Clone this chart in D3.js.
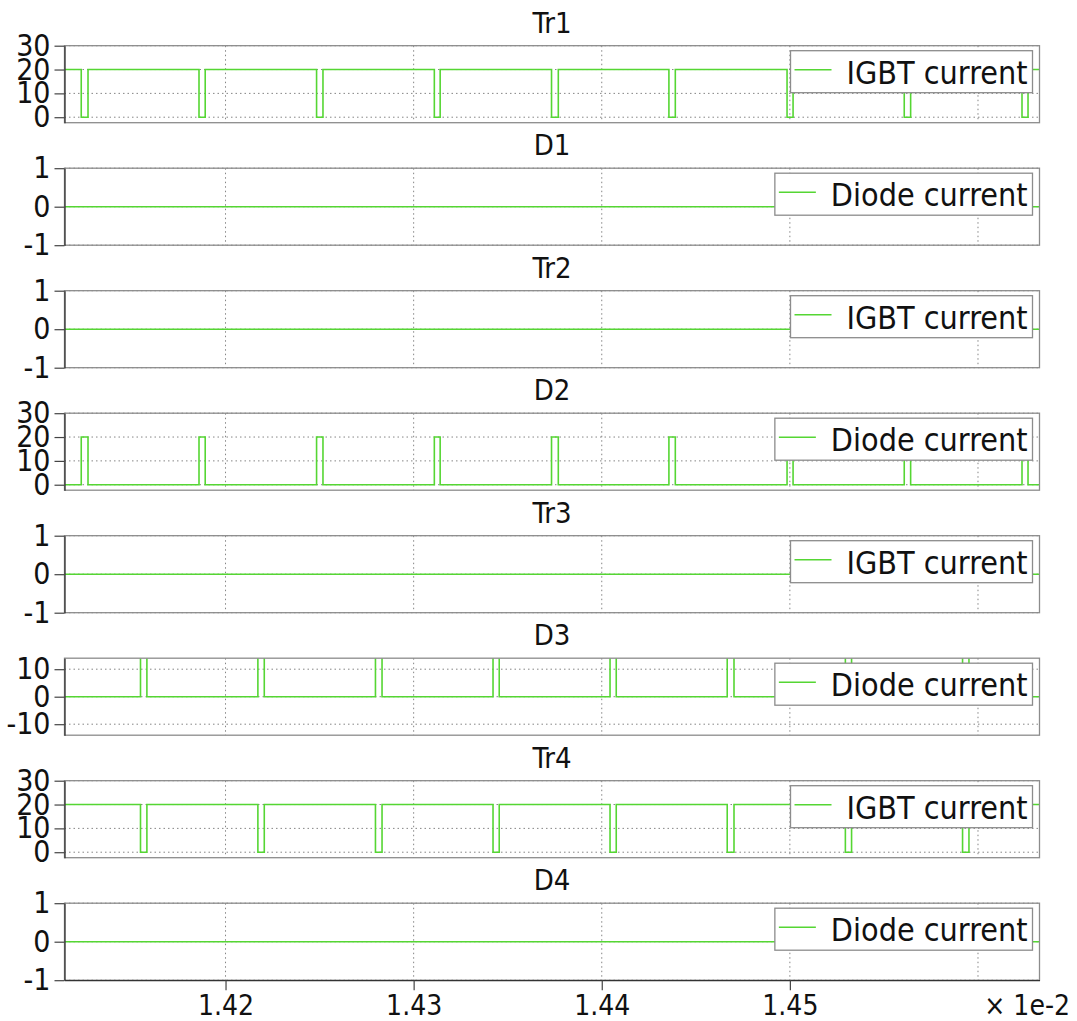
<!DOCTYPE html>
<html>
<head>
<meta charset="utf-8">
<script src="https://cdn.jsdelivr.net/npm/d3@7/dist/d3.min.js"></script>
<style>
  html, body { margin: 0; padding: 0; background: #ffffff; }
  svg { display: block; }
  text { font-family: "DejaVu Sans Condensed", "DejaVu Sans", sans-serif; font-stretch: condensed; fill: #111; }
</style>
</head>
<body>
<svg id="chart" width="1077" height="1021"></svg>
<script>
// ---- data (time axis in units of 1e-2 s, currents in A) ----
const panelTitles  = ["Tr1", "D1", "Tr2", "D2", "Tr3", "D3", "Tr4", "D4"];
const legendLabels = ["IGBT current", "Diode current", "IGBT current", "Diode current",
                      "IGBT current", "Diode current", "IGBT current", "Diode current"];

const timeRange   = [1.41144, 1.46327];
const xTicks      = [1.42, 1.43, 1.44, 1.45, 1.46];
const xTickLabels = ["1.42", "1.43", "1.44", "1.45", ""];
const xExponent   = "\u00d7 1e-2";

// switching instants of leg A (Tr1 turns off / D2 conducts)
const legATimes = [1.4110, 1.41233, 1.41269, 1.41859, 1.41892, 1.42484, 1.42518, 1.43110, 1.43141,
                   1.43733, 1.43769, 1.44357, 1.44391, 1.44985, 1.45017, 1.45608, 1.45642,
                   1.46234, 1.46266, 1.4640];
const tr1Current = [20, 0, 20, 0, 20, 0, 20, 0, 20, 0, 20, 0, 20, 0, 20, 0, 20, 0, 20, 20];
const d2Current  = [0, 20, 0, 20, 0, 20, 0, 20, 0, 20, 0, 20, 0, 20, 0, 20, 0, 20, 0, 0];

// switching instants of leg B (Tr4 turns off / D3 conducts)
const legBTimes = [1.4110, 1.41548, 1.41582, 1.42172, 1.42206, 1.42797, 1.42832, 1.43422, 1.43455,
                   1.44044, 1.44077, 1.44667, 1.44703, 1.45295, 1.45328, 1.45918, 1.45952, 1.4640];
const tr4Current = [20, 0, 20, 0, 20, 0, 20, 0, 20, 0, 20, 0, 20, 0, 20, 0, 20, 20];
const d3Current  = [0, 20, 0, 20, 0, 20, 0, 20, 0, 20, 0, 20, 0, 20, 0, 20, 0, 0];

// non-conducting devices
const idleTimes   = [1.4110, 1.4640];
const idleCurrent = [0, 0];

const seriesTimes  = [legATimes, idleTimes, idleTimes, legATimes, idleTimes, legBTimes, legBTimes, idleTimes];
const seriesValues = [tr1Current, idleCurrent, idleCurrent, d2Current, idleCurrent, d3Current, tr4Current, idleCurrent];

const yDomains = [[-2.3, 30], [-1, 1], [-1, 1], [-2.3, 30], [-1, 1], [-14, 14], [-2.3, 30], [-1, 1]];
const yTicks   = [[0, 10, 20, 30], [-1, 0, 1], [-1, 0, 1], [0, 10, 20, 30],
                  [-1, 0, 1], [-10, 0, 10], [0, 10, 20, 30], [-1, 0, 1]];

// ---- layout ----
const plotLeft = 64.5, plotRight = 1039.5;
const firstTop = 45.7, panelStep = 122.5, panelHeight = 77;
const lineColor = "#55d633";
const gridColor = "#858585";

const svg = d3.select("#chart");
const x = d3.scaleLinear().domain(timeRange).range([plotLeft, plotRight]);

panelTitles.forEach((title, k) => {
  const top = firstTop + k * panelStep;
  const bottom = top + panelHeight;
  const y = d3.scaleLinear().domain(yDomains[k]).range([bottom, top]);
  const g = svg.append("g");

  const clipId = "clip" + k;
  g.append("clipPath").attr("id", clipId)
    .append("rect").attr("x", plotLeft).attr("y", top)
    .attr("width", plotRight - plotLeft).attr("height", panelHeight);

  // dotted grid
  g.append("g").selectAll("line").data(xTicks).join("line")
    .attr("x1", d => x(d)).attr("x2", d => x(d))
    .attr("y1", top).attr("y2", bottom)
    .attr("stroke", gridColor).attr("stroke-width", 1).attr("stroke-dasharray", "1.5,3");
  g.append("g").selectAll("line").data(yTicks[k]).join("line")
    .attr("x1", plotLeft).attr("x2", plotRight)
    .attr("y1", d => y(d)).attr("y2", d => y(d))
    .attr("stroke", gridColor).attr("stroke-width", 1).attr("stroke-dasharray", "1.5,3");

  // waveform
  const pts = seriesTimes[k].map((t, i) => [t, seriesValues[k][i]]);
  const line = d3.line().x(d => x(d[0])).y(d => y(d[1])).curve(d3.curveStepAfter);
  g.append("path").datum(pts)
    .attr("clip-path", `url(#${clipId})`)
    .attr("d", line)
    .attr("fill", "none").attr("stroke", lineColor).attr("stroke-width", 1.6);

  // frame
  g.append("rect").attr("x", plotLeft).attr("y", top)
    .attr("width", plotRight - plotLeft).attr("height", panelHeight)
    .attr("fill", "none").attr("stroke", "#8c8c8c").attr("stroke-width", 1.3);

  // y axis
  const yAxis = d3.axisLeft(y).tickValues(yTicks[k]).tickSize(10).tickSizeOuter(0).tickPadding(4)
    .tickFormat(d => String(d));
  const ya = g.append("g").attr("transform", `translate(${plotLeft},0)`).call(yAxis);
  ya.select(".domain").attr("stroke", "#333").attr("stroke-width", 1.3);
  ya.selectAll(".tick line").attr("stroke", "#444").attr("stroke-width", 1.2);
  ya.selectAll(".tick text").attr("font-size", 30).attr("font-family", null).attr("fill", "#111");

  // title
  g.append("text").attr("x", (plotLeft + plotRight) / 2).attr("y", top - 13)
    .attr("text-anchor", "middle").attr("font-size", 29).text(title);

  // legend
  const leg = g.append("g");
  const boxTop = top + 5, boxH = 42;
  const legBox = leg.append("rect");
  const legLine = leg.append("line");
  const legText = leg.append("text").attr("x", plotRight - 12).attr("y", boxTop + 33)
    .attr("text-anchor", "end").attr("font-size", 32).text(legendLabels[k]);
  const tw = legText.node().getComputedTextLength();
  const boxLeft = plotRight - 12 - tw - 56;
  legBox.attr("x", boxLeft).attr("y", boxTop).attr("width", plotRight - 7 - boxLeft).attr("height", boxH)
    .attr("fill", "#ffffff").attr("stroke", "#8c8c8c").attr("stroke-width", 1.3);
  legLine.attr("x1", boxLeft + 4).attr("x2", boxLeft + 41)
    .attr("y1", boxTop + 19).attr("y2", boxTop + 19)
    .attr("stroke", lineColor).attr("stroke-width", 1.6);

  // time axis on the last panel
  if (k === panelTitles.length - 1) {
    const xAxis = d3.axisBottom(x).tickValues(xTicks.slice(0, 4)).tickSize(10).tickSizeOuter(0)
      .tickPadding(5).tickFormat((d, i) => xTickLabels[i]);
    const xa = g.append("g").attr("transform", `translate(0,${bottom})`).call(xAxis);
    xa.select(".domain").attr("stroke", "#333").attr("stroke-width", 1.3);
    xa.selectAll(".tick line").attr("stroke", "#444").attr("stroke-width", 1.2);
    xa.selectAll(".tick text").attr("font-size", 28).attr("font-family", null).attr("fill", "#111");
    g.append("text").attr("x", 1070).attr("y", 1015).attr("text-anchor", "end")
      .attr("font-size", 28).text(xExponent);
  }
});
</script>
</body>
</html>
